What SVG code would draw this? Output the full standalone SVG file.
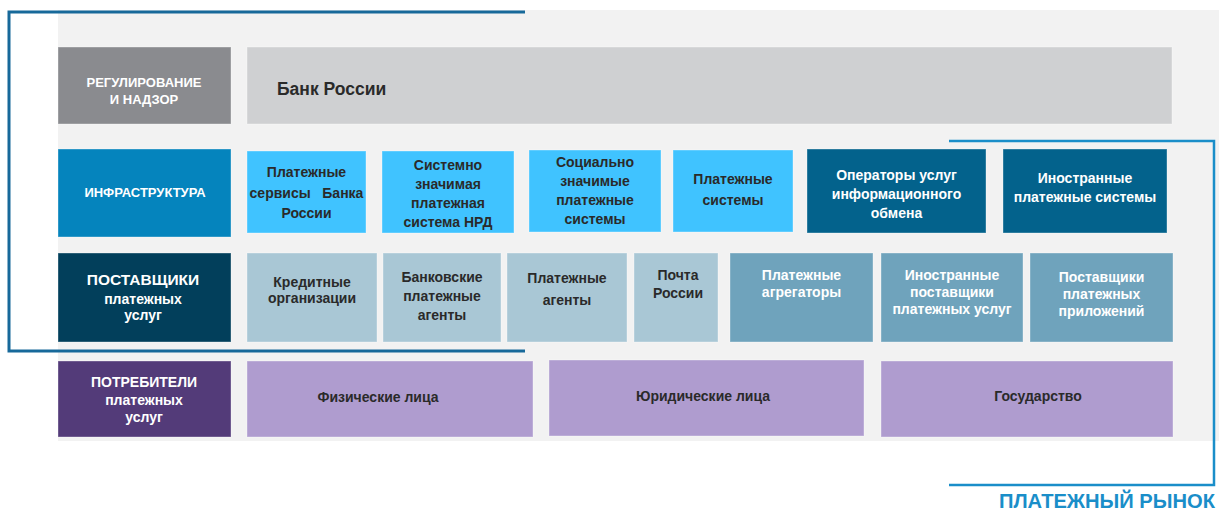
<svg xmlns="http://www.w3.org/2000/svg" width="1219" height="512" viewBox="0 0 1219 512">
<style>
text{font-family:"Liberation Sans",Arial,sans-serif;font-weight:bold;text-anchor:middle;font-size:14px;fill:#2a2a2a}
.w{fill:#ffffff}
.hd{font-size:13px}
.box{stroke:#ffffff;stroke-opacity:0.35;stroke-width:1}
.reg{fill:#8a8b8f}.bank{fill:#cfd0d2}
.inf{fill:#0584bd}.lb{fill:#40c3ff}.db{fill:#03628c}
.prov{fill:#023f5b}.pg{fill:#a9c7d5}.pm{fill:#6fa3bc}
.cons{fill:#533b79}.lav{fill:#af9ccf}
.brL{fill:none;stroke:#17699a;stroke-width:3}
.brR{fill:none;stroke:#1a8ec9;stroke-width:2.5}
</style>
<rect x="0" y="0" width="1219" height="512" fill="#ffffff"/>
<rect x="58" y="10" width="1161" height="431" fill="#f2f2f2"/>

<g id="row-regulation">
<g id="n-regulation"><rect class="box reg" x="58" y="47" width="173" height="77"/>
<text class="w hd" x="144" y="87">РЕГУЛИРОВАНИЕ</text><text class="w hd" x="144" y="104">И НАДЗОР</text></g>
<g id="n-bank-russia"><rect class="box bank" x="247" y="47" width="925" height="77"/>
<text x="277" y="95" style="text-anchor:start;font-size:17.5px">Банк России</text></g>
</g>

<g id="row-infrastructure">
<g id="n-infrastructure"><rect class="box inf" x="58" y="149" width="173" height="88"/>
<text class="w" x="145" y="197" style="font-size:13px">ИНФРАСТРУКТУРА</text></g>
<g id="n-cbr-services"><rect class="box lb" x="247" y="151" width="119" height="82"/>
<text x="306.5" y="177">Платежные</text><text x="306.5" y="198" xml:space="preserve">сервисы   Банка</text><text x="306.5" y="218">России</text></g>
<g id="n-nrd"><rect class="box lb" x="382" y="151" width="132" height="82"/>
<text x="448" y="170">Системно</text><text x="448" y="189">значимая</text><text x="448" y="208">платежная</text><text x="448" y="227">система НРД</text></g>
<g id="n-social"><rect class="box lb" x="529" y="150" width="132" height="82"/>
<text x="595" y="167">Социально</text><text x="595" y="186">значимые</text><text x="595" y="205">платежные</text><text x="595" y="224">системы</text></g>
<g id="n-payment-systems"><rect class="box lb" x="673" y="150" width="120" height="82"/>
<text x="733" y="184">Платежные</text><text x="733" y="205">системы</text></g>
<g id="n-info-exchange"><rect class="box db" x="807" y="149" width="179" height="84"/>
<text class="w" x="896.5" y="180">Операторы услуг</text><text class="w" x="896.5" y="199">информационного</text><text class="w" x="896.5" y="218">обмена</text></g>
<g id="n-foreign-systems"><rect class="box db" x="1003" y="149" width="164" height="84"/>
<text class="w" x="1085" y="183">Иностранные</text><text class="w" x="1085" y="202">платежные системы</text></g>
</g>

<g id="row-providers">
<g id="n-providers"><rect class="box prov" x="58" y="253" width="173" height="89"/>
<text class="w" x="143" y="285" style="font-size:15.5px">ПОСТАВЩИКИ</text><text class="w" x="143" y="304">платежных</text><text class="w" x="143" y="320">услуг</text></g>
<g id="n-credit-orgs"><rect class="box pg" x="247" y="253" width="130" height="89"/>
<text x="312" y="287">Кредитные</text><text x="312" y="303">организации</text></g>
<g id="n-bank-agents"><rect class="box pg" x="383" y="253" width="118" height="89"/>
<text x="442" y="282">Банковские</text><text x="442" y="301">платежные</text><text x="442" y="320">агенты</text></g>
<g id="n-pay-agents"><rect class="box pg" x="507" y="253" width="120" height="89"/>
<text x="567" y="283">Платежные</text><text x="567" y="305">агенты</text></g>
<g id="n-post"><rect class="box pg" x="634" y="253" width="84" height="89"/>
<text x="678" y="280">Почта</text><text x="678" y="298">России</text></g>
<g id="n-aggregators"><rect class="box pm" x="730" y="253" width="143" height="89"/>
<text class="w" x="801.5" y="280">Платежные</text><text class="w" x="801.5" y="297">агрегаторы</text></g>
<g id="n-foreign-providers"><rect class="box pm" x="881" y="253" width="142" height="89"/>
<text class="w" x="952" y="280">Иностранные</text><text class="w" x="952" y="297">поставщики</text><text class="w" x="952" y="314">платежных услуг</text></g>
<g id="n-app-providers"><rect class="box pm" x="1030" y="253" width="143" height="89"/>
<text class="w" x="1101.5" y="282">Поставщики</text><text class="w" x="1101.5" y="299">платежных</text><text class="w" x="1101.5" y="316">приложений</text></g>
</g>

<g id="row-consumers">
<g id="n-consumers"><rect class="box cons" x="58" y="361" width="173" height="76"/>
<text class="w" x="144" y="387">ПОТРЕБИТЕЛИ</text><text class="w" x="144" y="405">платежных</text><text class="w" x="144" y="422">услуг</text></g>
<g id="n-individuals"><rect class="box lav" x="247" y="361" width="286" height="76"/>
<text x="378" y="402">Физические лица</text></g>
<g id="n-legal"><rect class="box lav" x="549" y="360" width="315" height="76"/>
<text x="703" y="401">Юридические лица</text></g>
<g id="n-state"><rect class="box lav" x="881" y="361" width="292" height="76"/>
<text x="1038" y="401">Государство</text></g>
</g>

<g id="connectors">
<polyline class="brL" points="525,12 9,12 9,351 525,351"/>
<polyline class="brR" points="949,141 1214,141 1214,485 949,485"/>
</g>
<text x="1215" y="508" style="text-anchor:end;font-size:20px;fill:#1a8ec9" textLength="216" lengthAdjust="spacingAndGlyphs">ПЛАТЕЖНЫЙ РЫНОК</text>
</svg>
